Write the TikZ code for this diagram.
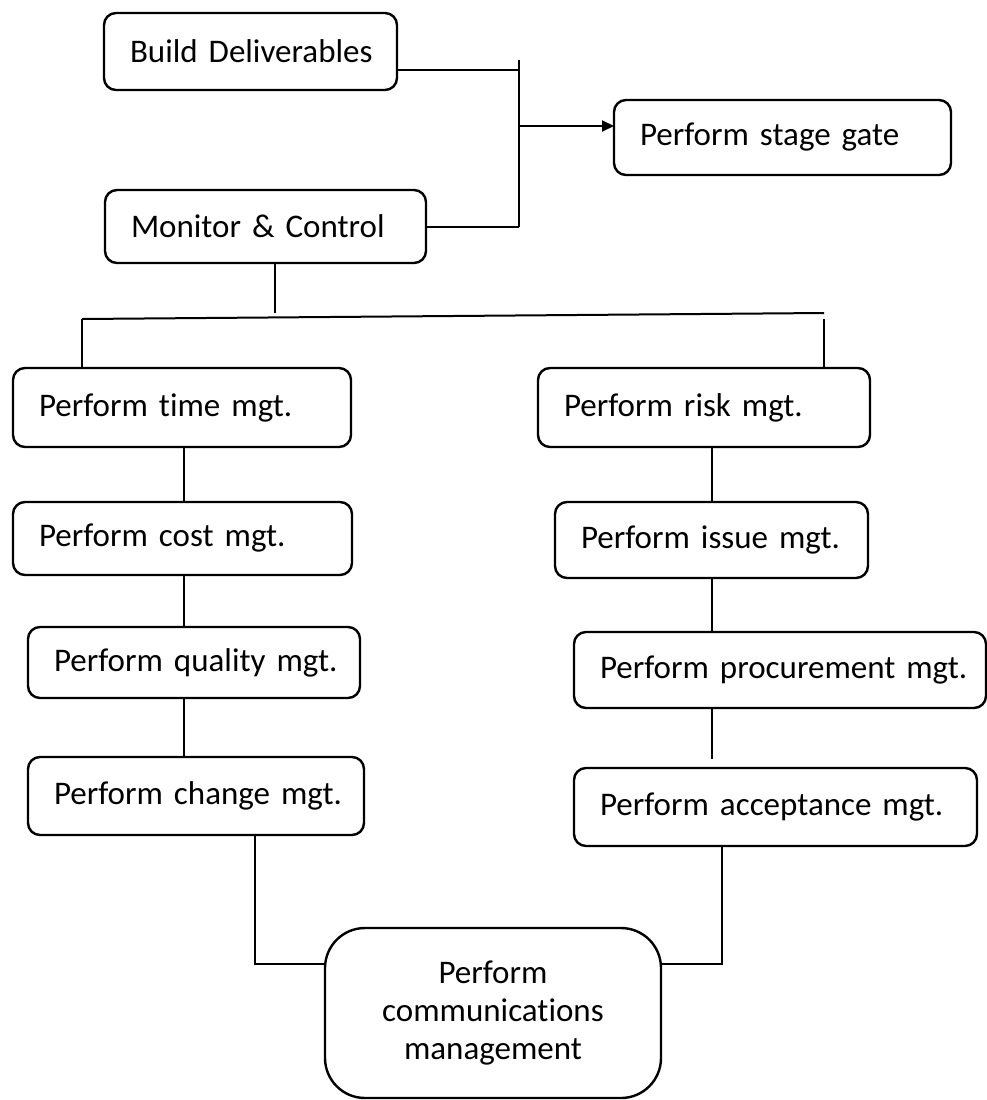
\documentclass[tikz,border=0pt]{standalone}
\usepackage{fontspec}
\setmainfont{Carlito}[Ligatures=NoCommon]
\usetikzlibrary{arrows.meta}
% tighter word spacing for the box labels
\newcommand{\boxfont}{\fontsize{33}{38}\selectfont\spaceskip=5pt plus 1pt minus 1pt\relax}
\begin{document}
\begin{tikzpicture}[x=1pt,y=-1pt,
  proc/.style={draw, line width=2.4pt, rounded corners=12pt, inner xsep=26pt,
    inner ysep=0pt, outer sep=0pt, align=left, anchor=north west,
    font=\boxfont},
  link/.style={line width=2pt},
  tip/.style={-{Triangle[length=12pt,width=11pt]}}]

% canvas
\fill[white] (0,0) rectangle (987,1100);
\useasboundingbox (0,0) rectangle (987,1100);

% process boxes (one-line labels kept in an \mbox so they never wrap)
\node[proc, text width=241pt, minimum height=77pt] (build) at (104,13) {\mbox{Build Deliverables}};
\node[proc, text width=285pt, minimum height=75pt] (gate) at (614,100) {\mbox{Perform stage gate}};
\node[proc, text width=269pt, minimum height=73pt] (monitor) at (105,190) {\mbox{Monitor \& Control}};

\node[proc, text width=286pt, minimum height=79pt] (time) at (13,368) {\mbox{Perform time mgt.}};
\node[proc, text width=287pt, minimum height=73pt] (cost) at (13,502) {\mbox{Perform cost mgt.}};
\node[proc, text width=280pt, minimum height=71pt] (quality) at (28,627) {\mbox{Perform quality mgt.}};
\node[proc, text width=284pt, minimum height=78pt] (change) at (28,757) {\mbox{Perform change mgt.}};

\node[proc, text width=280pt, minimum height=79pt] (risk) at (538,368) {\mbox{Perform risk mgt.}};
\node[proc, text width=261pt, minimum height=76pt] (issue) at (555,502) {\mbox{Perform issue mgt.}};
\node[proc, text width=360pt, minimum height=76pt] (procure) at (574,632) {\mbox{Perform procurement mgt.}};
\node[proc, text width=351pt, minimum height=78pt] (accept) at (574,768) {\mbox{Perform acceptance mgt.}};

\node[proc, rounded corners=40pt, align=center, inner xsep=0pt, text width=336pt,
  minimum height=170pt] (comm) at (325,928) {Perform\\communications\\management};

% junction points
\coordinate (jtop) at (519,60);
\coordinate (jbot) at (519,227);
\coordinate (jb) at (519,70);
\coordinate (ja) at (519,126);
\coordinate (mdown) at (275,313);
\coordinate (busL) at (82,319);
\coordinate (busR) at (824,313);
\coordinate (busRb) at (824,319);
\coordinate (lc) at (184,0);
\coordinate (rc) at (712,0);
\coordinate (pa) at (712,759);
\coordinate (cl) at (255,964);
\coordinate (cr) at (722,964);

% top merge into stage gate
\draw[link] (build.east |- jb) -- (jb);
\draw[link] (jtop) -- (jbot);
\draw[link] (monitor.east |- jbot) -- (jbot);
\draw[link, tip] (ja) -- (gate.west |- ja);

% split below monitor & control
\draw[link] (mdown |- monitor.south) -- (mdown);
\draw[link] (busL) -- (busR);
\draw[link] (busL) -- (busL |- time.north);
\draw[link] (busRb) -- (busRb |- risk.north);

% left column
\draw[link] (lc |- time.south) -- (lc |- cost.north);
\draw[link] (lc |- cost.south) -- (lc |- quality.north);
\draw[link] (lc |- quality.south) -- (lc |- change.north);

% right column
\draw[link] (rc |- risk.south) -- (rc |- issue.north);
\draw[link] (rc |- issue.south) -- (rc |- procure.north);
\draw[link] (rc |- procure.south) -- (pa);

% into communications
\draw[link] (cl |- change.south) -- (cl) -- (cl -| comm.west);
\draw[link] (cr |- accept.south) -- (cr) -- (cr -| comm.east);
\end{tikzpicture}
\end{document}
